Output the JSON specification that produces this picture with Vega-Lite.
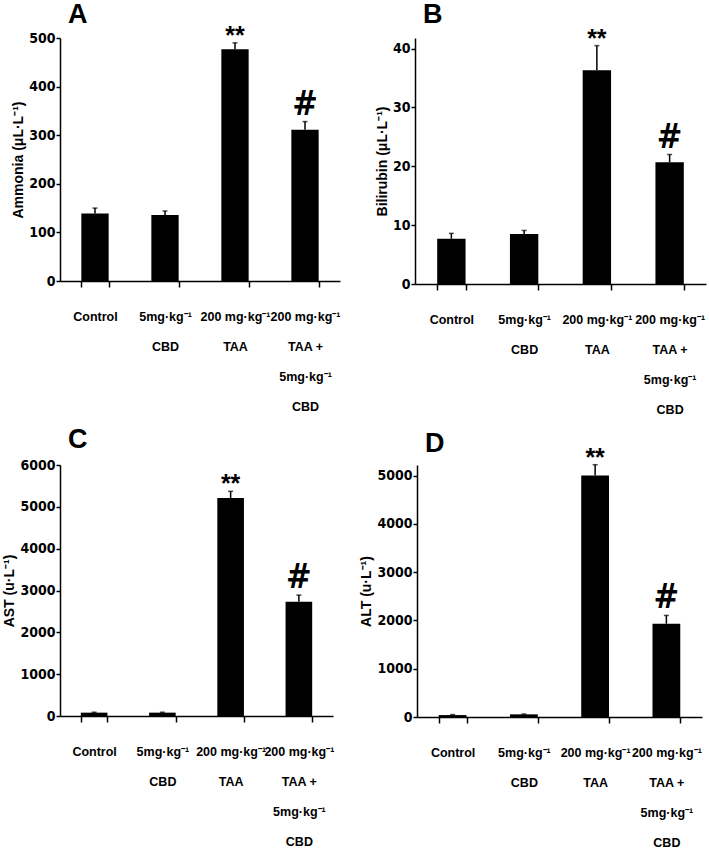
{
  "$schema": "https://vega.github.io/schema/vega-lite/v6.json",
  "padding": {"left": 2, "top": 0, "right": 2, "bottom": 2},
  "background": "white",
  "datasets": {
    "d": [
      {"panel": "A", "group": "Control", "mean": 139, "hi": 150, "sig": ""},
      {"panel": "A", "group": "5mg·kg⁻¹|CBD", "mean": 136, "hi": 144, "sig": ""},
      {"panel": "A", "group": "200 mg·kg⁻¹|TAA", "mean": 477, "hi": 490, "sig": "**"},
      {"panel": "A", "group": "200 mg·kg⁻¹|TAA +|5mg·kg⁻¹|CBD", "mean": 311, "hi": 328, "sig": "#"},
      {"panel": "B", "group": "Control", "mean": 7.7, "hi": 8.6, "sig": ""},
      {"panel": "B", "group": "5mg·kg⁻¹|CBD", "mean": 8.5, "hi": 9.1, "sig": ""},
      {"panel": "B", "group": "200 mg·kg⁻¹|TAA", "mean": 36.3, "hi": 40.5, "sig": "**"},
      {"panel": "B", "group": "200 mg·kg⁻¹|TAA +|5mg·kg⁻¹|CBD", "mean": 20.7, "hi": 22.0, "sig": "#"},
      {"panel": "C", "group": "Control", "mean": 80, "hi": 90, "sig": ""},
      {"panel": "C", "group": "5mg·kg⁻¹|CBD", "mean": 80, "hi": 90, "sig": ""},
      {"panel": "C", "group": "200 mg·kg⁻¹|TAA", "mean": 5210, "hi": 5370, "sig": "**"},
      {"panel": "C", "group": "200 mg·kg⁻¹|TAA +|5mg·kg⁻¹|CBD", "mean": 2730, "hi": 2890, "sig": "#"},
      {"panel": "D", "group": "Control", "mean": 40, "hi": 50, "sig": ""},
      {"panel": "D", "group": "5mg·kg⁻¹|CBD", "mean": 55, "hi": 62, "sig": ""},
      {"panel": "D", "group": "200 mg·kg⁻¹|TAA", "mean": 5000, "hi": 5226, "sig": "**"},
      {"panel": "D", "group": "200 mg·kg⁻¹|TAA +|5mg·kg⁻¹|CBD", "mean": 1932, "hi": 2104, "sig": "#"}
    ]
  },
  "spacing": 10,
  "vconcat": [
    {
      "spacing": 35,
      "hconcat": [
        {
          "title": {"text": "A", "offset": -5},
          "width": 280, "height": 243,
          "data": {"name": "d"},
          "transform": [{"filter": "datum.panel === 'A'"}],
          "encoding": {
            "x": {"field": "group", "type": "nominal", "sort": ["Control", "5mg·kg⁻¹|CBD", "200 mg·kg⁻¹|TAA", "200 mg·kg⁻¹|TAA +|5mg·kg⁻¹|CBD"], "scale": {"paddingInner": 0.61, "paddingOuter": 0.305}, "axis": {"labelExpr": "datum.value ? split(datum.value, '|') : ''"}}
          },
          "layer": [
            {"mark": {"type": "bar", "color": "black"}, "encoding": {"y": {"field": "mean", "type": "quantitative", "scale": {"domain": [0, 500], "nice": false}, "axis": {"values": [0, 100, 200, 300, 400, 500], "format": "d", "title": "Ammonia (μL·L⁻¹)"}}}},
            {"mark": {"type": "rule", "color": "black", "strokeWidth": 1.5}, "encoding": {"y": {"field": "mean", "type": "quantitative"}, "y2": {"field": "hi"}}},
            {"mark": {"type": "tick", "color": "black", "thickness": 1.5, "size": 5}, "encoding": {"y": {"field": "hi", "type": "quantitative"}}},
            {"transform": [{"filter": "datum.sig === '**'"}], "mark": {"type": "text", "font": "Liberation Sans", "fontWeight": "bold", "fontSize": 25, "baseline": "alphabetic", "dy": 1, "color": "black"}, "encoding": {"y": {"field": "hi", "type": "quantitative"}, "text": {"field": "sig"}}},
            {"transform": [{"filter": "datum.sig === '#'"}], "mark": {"type": "text", "font": "DejaVu Sans Condensed", "fontWeight": "bold", "fontSize": 34, "baseline": "alphabetic", "dy": -7, "color": "black"}, "encoding": {"y": {"field": "hi", "type": "quantitative"}, "text": {"field": "sig"}}}
          ]
        },
        {
          "title": {"text": "B", "offset": -2},
          "width": 291, "height": 246,
          "data": {"name": "d"},
          "transform": [{"filter": "datum.panel === 'B'"}],
          "encoding": {
            "x": {"field": "group", "type": "nominal", "sort": ["Control", "5mg·kg⁻¹|CBD", "200 mg·kg⁻¹|TAA", "200 mg·kg⁻¹|TAA +|5mg·kg⁻¹|CBD"], "scale": {"paddingInner": 0.61, "paddingOuter": 0.305}, "axis": {"labelExpr": "datum.value ? split(datum.value, '|') : ''"}}
          },
          "layer": [
            {"mark": {"type": "bar", "color": "black"}, "encoding": {"y": {"field": "mean", "type": "quantitative", "scale": {"domain": [0, 41.8], "nice": false}, "axis": {"values": [0, 10, 20, 30, 40], "format": "d", "title": "Bilirubin (μL·L⁻¹)"}}}},
            {"mark": {"type": "rule", "color": "black", "strokeWidth": 1.5}, "encoding": {"y": {"field": "mean", "type": "quantitative"}, "y2": {"field": "hi"}}},
            {"mark": {"type": "tick", "color": "black", "thickness": 1.5, "size": 5}, "encoding": {"y": {"field": "hi", "type": "quantitative"}}},
            {"transform": [{"filter": "datum.sig === '**'"}], "mark": {"type": "text", "font": "Liberation Sans", "fontWeight": "bold", "fontSize": 25, "baseline": "alphabetic", "dy": 1, "color": "black"}, "encoding": {"y": {"field": "hi", "type": "quantitative"}, "text": {"field": "sig"}}},
            {"transform": [{"filter": "datum.sig === '#'"}], "mark": {"type": "text", "font": "DejaVu Sans Condensed", "fontWeight": "bold", "fontSize": 34, "baseline": "alphabetic", "dy": -7, "color": "black"}, "encoding": {"y": {"field": "hi", "type": "quantitative"}, "text": {"field": "sig"}}}
          ]
        }
      ]
    },
    {
      "spacing": 25,
      "hconcat": [
        {
          "title": {"text": "C", "offset": 4},
          "width": 273, "height": 251,
          "data": {"name": "d"},
          "transform": [{"filter": "datum.panel === 'C'"}],
          "encoding": {
            "x": {"field": "group", "type": "nominal", "sort": ["Control", "5mg·kg⁻¹|CBD", "200 mg·kg⁻¹|TAA", "200 mg·kg⁻¹|TAA +|5mg·kg⁻¹|CBD"], "scale": {"paddingInner": 0.61, "paddingOuter": 0.305}, "axis": {"labelExpr": "datum.value ? split(datum.value, '|') : ''"}}
          },
          "layer": [
            {"mark": {"type": "bar", "color": "black"}, "encoding": {"y": {"field": "mean", "type": "quantitative", "scale": {"domain": [0, 6000], "nice": false}, "axis": {"values": [0, 1000, 2000, 3000, 4000, 5000, 6000], "format": "d", "title": "AST (u·L⁻¹)"}}}},
            {"mark": {"type": "rule", "color": "black", "strokeWidth": 1.5}, "encoding": {"y": {"field": "mean", "type": "quantitative"}, "y2": {"field": "hi"}}},
            {"mark": {"type": "tick", "color": "black", "thickness": 1.5, "size": 5}, "encoding": {"y": {"field": "hi", "type": "quantitative"}}},
            {"transform": [{"filter": "datum.sig === '**'"}], "mark": {"type": "text", "font": "Liberation Sans", "fontWeight": "bold", "fontSize": 25, "baseline": "alphabetic", "dy": 1, "color": "black"}, "encoding": {"y": {"field": "hi", "type": "quantitative"}, "text": {"field": "sig"}}},
            {"transform": [{"filter": "datum.sig === '#'"}], "mark": {"type": "text", "font": "DejaVu Sans Condensed", "fontWeight": "bold", "fontSize": 34, "baseline": "alphabetic", "dy": -7, "color": "black"}, "encoding": {"y": {"field": "hi", "type": "quantitative"}, "text": {"field": "sig"}}}
          ]
        },
        {
          "title": {"text": "D", "offset": -12},
          "width": 285, "height": 252,
          "data": {"name": "d"},
          "transform": [{"filter": "datum.panel === 'D'"}],
          "encoding": {
            "x": {"field": "group", "type": "nominal", "sort": ["Control", "5mg·kg⁻¹|CBD", "200 mg·kg⁻¹|TAA", "200 mg·kg⁻¹|TAA +|5mg·kg⁻¹|CBD"], "scale": {"paddingInner": 0.61, "paddingOuter": 0.305}, "axis": {"labelExpr": "datum.value ? split(datum.value, '|') : ''"}}
          },
          "layer": [
            {"mark": {"type": "bar", "color": "black"}, "encoding": {"y": {"field": "mean", "type": "quantitative", "scale": {"domain": [0, 5220], "nice": false}, "axis": {"values": [0, 1000, 2000, 3000, 4000, 5000], "format": "d", "title": "ALT (u·L⁻¹)"}}}},
            {"mark": {"type": "rule", "color": "black", "strokeWidth": 1.5}, "encoding": {"y": {"field": "mean", "type": "quantitative"}, "y2": {"field": "hi"}}},
            {"mark": {"type": "tick", "color": "black", "thickness": 1.5, "size": 5}, "encoding": {"y": {"field": "hi", "type": "quantitative"}}},
            {"transform": [{"filter": "datum.sig === '**'"}], "mark": {"type": "text", "font": "Liberation Sans", "fontWeight": "bold", "fontSize": 25, "baseline": "alphabetic", "dy": 1, "color": "black"}, "encoding": {"y": {"field": "hi", "type": "quantitative"}, "text": {"field": "sig"}}},
            {"transform": [{"filter": "datum.sig === '#'"}], "mark": {"type": "text", "font": "DejaVu Sans Condensed", "fontWeight": "bold", "fontSize": 34, "baseline": "alphabetic", "dy": -7, "color": "black"}, "encoding": {"y": {"field": "hi", "type": "quantitative"}, "text": {"field": "sig"}}}
          ]
        }
      ]
    }
  ],
  "config": {
    "view": {"stroke": null},
    "title": {"anchor": "start", "frame": "group", "fontSize": 27, "font": "Liberation Sans", "fontWeight": "bold", "color": "black", "dx": 8},
    "axis": {"domainColor": "black", "tickColor": "black", "labelColor": "black", "titleColor": "black", "domainWidth": 1.5, "tickWidth": 1.5, "grid": false, "labelFont": "DejaVu Sans Condensed", "labelFontWeight": "bold", "labelFontSize": 14, "titleFont": "Liberation Sans", "titleFontSize": 14, "titleFontWeight": "bold", "tickSize": 4},
    "axisX": {"tickBand": "extent", "labelAngle": 0, "title": null, "tickSize": 6, "labelPadding": 23, "labelLineHeight": 30, "labelBaseline": "top", "labelFont": "Liberation Sans", "labelFontSize": 12.5},
    "axisY": {"labelPadding": 1, "titlePadding": 3}
  }
}
